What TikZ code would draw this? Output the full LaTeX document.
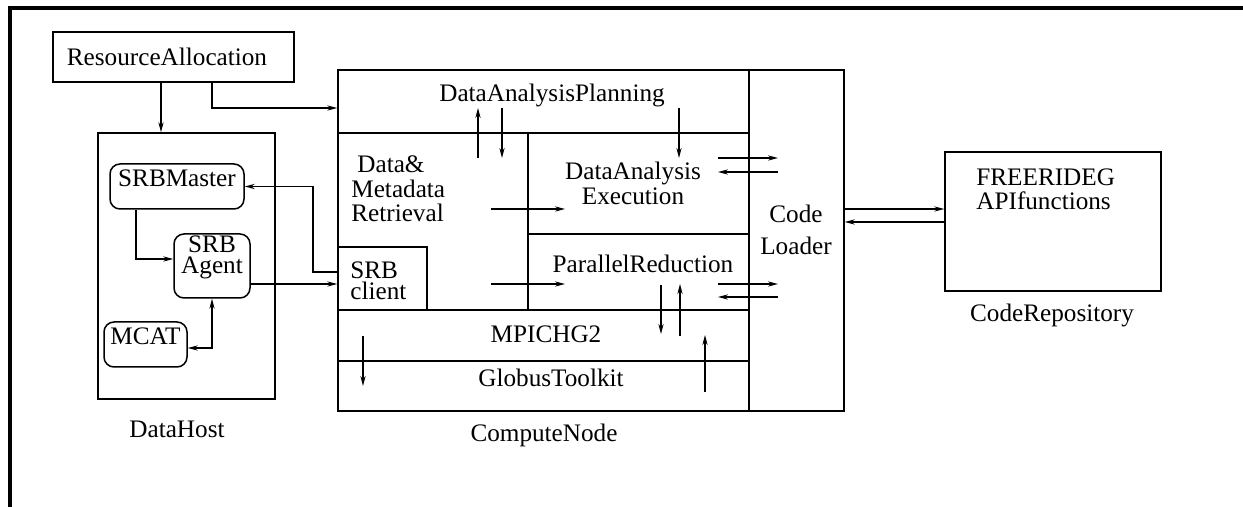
\documentclass[tikz,border=0pt]{standalone}
\usepackage{fontspec}
\setmainfont{Liberation Serif}
\usetikzlibrary{arrows.meta,fit}
\begin{document}
\begin{tikzpicture}[x=0.5pt,y=-0.5pt,
  lw/.style={line width=0.75pt},
  cell/.style={draw, lw, inner sep=0pt, fit={#1}},
  rbox/.style={draw, lw, rounded corners=5pt, inner sep=0pt, align=center, fit={#1}},
  txt/.style={inner sep=0pt, font=\fontsize{12.6}{12.4}\selectfont},
  arr/.style={lw, -{Stealth[length=5pt,width=2.6pt]}},
  darr/.style={lw, {Stealth[length=5pt,width=2.6pt]}-{Stealth[length=5pt,width=2.6pt]}},
]
\useasboundingbox (0,0) rectangle (1243,507);
% frame
\draw[line width=2pt] (10,507) -- (10,8) -- (1243,8);

% Resource allocation
\node[cell={(53,32)(294,82)}] (ra) {};
\node[txt] (ratxt) at (167,57) {ResourceAllocation};

% Data host
\node[cell={(98,133)(275,399)}] (dh) {};
\node[txt] (dhtxt) at (177,429) {DataHost};
\node[rbox={(110,164)(244,209)}, txt] (srbm) {SRBMaster};
\node[rbox={(174,234)(250,298)}, txt, font=\fontsize{12.6}{10.5}\selectfont] (agent) {SRB\\Agent};
\node[rbox={(104,322)(187,367)}, txt] (mcat) {MCAT};

% Compute node
\node[cell={(338,70)(749,133)}] (dap) {};
\node[cell={(338,133)(528,310)}] (dmr) {};
\node[cell={(528,133)(749,234)}] (dae) {};
\node[cell={(528,234)(749,310)}] (pr) {};
\node[cell={(338,247)(427,310)}] (srbc) {};
\node[cell={(338,310)(749,361)}] (mpi) {};
\node[cell={(338,361)(749,411)}] (gt) {};
\node[cell={(749,70)(844,411)}] (cl) {};

\node[txt] (daptxt) at (552,95) {DataAnalysisPlanning};
\node[txt, anchor=west, align=left, font=\fontsize{12.6}{12.3}\selectfont] (dmrtxt) at (351,189) {\hspace*{3pt}Data\&\\Metadata\\Retrieval};
\node[txt, align=center, font=\fontsize{12.6}{12.5}\selectfont] (daetxt) at (633,183) {DataAnalysis\\Execution};
\node[txt] (prtxt) at (643,264) {ParallelReduction};
\node[txt, anchor=west, align=left, font=\fontsize{12.6}{10.5}\selectfont] (srbctxt) at (350,281) {SRB\\client};
\node[txt] (mpitxt) at (546,334) {MPICHG2};
\node[txt] (gttxt) at (551,378) {GlobusToolkit};
\node[txt, align=center, font=\fontsize{12.6}{16}\selectfont] (cltxt) at (796,230) {Code\\Loader};
\node[txt] (cntxt) at (544,435) {ComputeNode};

% Code repository
\node[cell={(945,152)(1161,291)}] (cr) {};
\node[txt, anchor=west, align=left, font=\fontsize{12.6}{12}\selectfont] (crtxt) at (976,189) {FREERIDEG\\APIfunctions};
\node[txt] (crlbl) at (1052,315) {CodeRepository};

% coordinates for connectors
\coordinate (k0) at (161,0);
\coordinate (k1) at (212,108);
\coordinate (k2) at (136,259);
\coordinate (k3) at (212,348);
\coordinate (k4) at (313,272);
\coordinate (k6) at (0,284);
\coordinate (k7) at (0,209);
\coordinate (k8) at (0,222);

\draw[arr] (ra.south -| k0) -- (dh.north -| k0);
\draw[arr] (ra.south -| k1) |- (dap.west |- k1);
\draw[arr] (srbm.south -| k2) |- (agent.west |- k2);
\draw[darr] (agent.south) |- (mcat.east |- k3);
\draw[arr] (srbc.west |- k4) -- (k4) |- (srbm.east);
\draw[arr] (agent.east |- k6) -- (srbc.west |- k6);
\draw[arr] (cl.east |- k7) -- (cr.west |- k7);
\draw[arr] (cr.west |- k8) -- (cl.east |- k8);

% free arrows inside compute node
\foreach \n/\xa/\ya/\xb/\yb in {
  a1/478/158/478/108, a2/502/108/502/158, a3/679/108/679/158,
  a4/491/209/565/209, a5/491/284/565/284,
  a6/718/158/778/158, a7/778/172/718/172,
  a8/718/284/778/284, a9/778/297/718/297,
  a10/661/285/661/334, a11/680/336/680/284,
  a12/363/336/363/386, a13/705/392/705/335}{
  \coordinate (\n s) at (\xa,\ya);
  \coordinate (\n e) at (\xb,\yb);
  \draw[arr] (\n s) -- (\n e);
}
\end{tikzpicture}
\end{document}
